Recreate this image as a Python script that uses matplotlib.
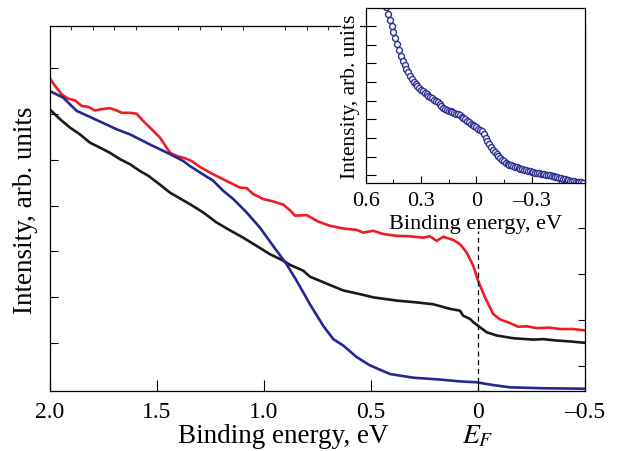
import matplotlib
matplotlib.use("Agg")
import matplotlib.pyplot as plt
import matplotlib.transforms as mtransforms
from matplotlib.ticker import MultipleLocator, FixedLocator

plt.rcParams['font.family'] = ['Liberation Serif', 'DejaVu Serif']
plt.rcParams['mathtext.fontset'] = 'stix'

# main panel: three spectra (binding energy in eV, intensity arb. units)
red_x = [2.0, 1.977, 1.945, 1.916, 1.883, 1.852, 1.821, 1.79, 1.758, 1.72, 1.688, 1.665,
         1.626, 1.595, 1.564, 1.533, 1.486, 1.439, 1.408, 1.369, 1.338, 1.299, 1.237,
         1.159, 1.112, 1.081, 1.05, 1.003, 0.957, 0.91, 0.879, 0.855, 0.8, 0.746, 0.692,
         0.629, 0.567, 0.536, 0.489, 0.443, 0.38, 0.318, 0.256, 0.224, 0.193, 0.162,
         0.115, 0.084, 0.053, 0.022, -0.001, -0.033, -0.071, -0.103, -0.15, -0.188,
         -0.228, -0.274, -0.336, -0.383, -0.445, -0.5]
red_y = [6.77, 6.61, 6.42, 6.33, 6.29, 6.17, 6.15, 6.07, 6.1, 6.12, 6.07, 6.02,
         6.02, 6.0, 5.84, 5.7, 5.48, 5.15, 5.08, 5.03, 4.97, 4.84, 4.68,
         4.5, 4.39, 4.38, 4.25, 4.14, 4.09, 4.02, 3.9, 3.78, 3.79, 3.65, 3.56,
         3.5, 3.47, 3.41, 3.45, 3.38, 3.34, 3.33, 3.3, 3.33, 3.23, 3.32,
         3.25, 3.16, 2.98, 2.69, 2.36, 2.0, 1.64, 1.52, 1.44, 1.36,
         1.37, 1.33, 1.34, 1.31, 1.31, 1.28]

black_x = [2.0, 1.953, 1.907, 1.86, 1.813, 1.766, 1.72, 1.673, 1.626, 1.579, 1.541, 1.49,
           1.439, 1.346, 1.284, 1.221, 1.159, 1.097, 1.034, 0.972, 0.91, 0.879, 0.816,
           0.785, 0.723, 0.645, 0.629, 0.551, 0.489, 0.38, 0.286, 0.209, 0.131, 0.084,
           0.069, 0.037, 0.022, -0.001, -0.041, -0.087, -0.165, -0.258, -0.305, -0.368,
           -0.43, -0.5]
black_y = [6.09, 5.88, 5.7, 5.55, 5.37, 5.26, 5.15, 5.01, 4.9, 4.75, 4.65, 4.47,
           4.28, 4.03, 3.85, 3.63, 3.46, 3.3, 3.12, 2.94, 2.8, 2.71, 2.58,
           2.45, 2.33, 2.18, 2.15, 2.07, 2.0, 1.93, 1.89, 1.85, 1.75, 1.71,
           1.6, 1.53, 1.46, 1.38, 1.24, 1.17, 1.11, 1.08, 1.09, 1.06,
           1.04, 1.01]

blue_x = [2.0, 1.938, 1.875, 1.813, 1.688, 1.626, 1.533, 1.439, 1.377, 1.346, 1.299, 1.237,
          1.19, 1.143, 1.081, 1.019, 0.957, 0.894, 0.847, 0.785, 0.723, 0.676, 0.629,
          0.567, 0.505, 0.411, 0.302, 0.178, 0.084, 0.006, -0.071, -0.15, -0.305, -0.5]
blue_y = [6.49, 6.35, 6.06, 5.93, 5.66, 5.55, 5.33, 5.12, 4.97, 4.86, 4.72, 4.54,
          4.32, 4.14, 3.85, 3.52, 3.12, 2.72, 2.36, 1.85, 1.38, 1.09, 0.95,
          0.7, 0.52, 0.33, 0.25, 0.21, 0.17, 0.15, 0.09, 0.04, 0.02, 0.01]

main_ticks = [2.0, 1.5, 1.0, 0.5, 0.0, -0.5]
main_labels = ['2.0', '1.5', '1.0', '0.5', '0', '\u20130.5']

# inset: blue spectrum near E_F
ins_x = [0.49, 0.48, 0.47, 0.46, 0.45, 0.44, 0.43, 0.42, 0.41, 0.40,
         0.39, 0.38, 0.37, 0.36, 0.35, 0.34, 0.33, 0.32, 0.31, 0.30,
         0.29, 0.28, 0.27, 0.26, 0.25, 0.24, 0.23, 0.22, 0.21, 0.20,
         0.19, 0.18, 0.17, 0.16, 0.15, 0.14, 0.13, 0.12, 0.11, 0.10,
         0.09, 0.08, 0.07, 0.06, 0.05, 0.04, 0.03, 0.02, 0.01, 0.00,
         -0.01, -0.02, -0.03, -0.04, -0.05, -0.06, -0.07, -0.08, -0.09, -0.10,
         -0.11, -0.12, -0.13, -0.14, -0.15, -0.16, -0.17, -0.18, -0.19, -0.20,
         -0.21, -0.22, -0.23, -0.24, -0.25, -0.26, -0.27, -0.28, -0.29, -0.30,
         -0.31, -0.32, -0.33, -0.34, -0.35, -0.36, -0.37, -0.38, -0.39, -0.40,
         -0.41, -0.42, -0.43, -0.44, -0.45, -0.46, -0.47, -0.48, -0.49, -0.50,
         -0.51, -0.52, -0.53, -0.54, -0.55, -0.56, -0.57, -0.58]
ins_y = [9.0, 8.65, 8.33, 8.0, 7.67, 7.34, 7.02, 6.71, 6.39, 6.15,
         5.93, 5.73, 5.53, 5.35, 5.18, 5.01, 4.88, 4.77, 4.67, 4.58,
         4.51, 4.43, 4.35, 4.27, 4.2, 4.14, 4.07, 3.99, 3.92, 3.83,
         3.72, 3.62, 3.55, 3.5, 3.46, 3.43, 3.39, 3.35, 3.31, 3.27,
         3.22, 3.16, 3.09, 3.01, 2.92, 2.84, 2.78, 2.72, 2.65, 2.58,
         2.51, 2.44, 2.36, 2.2, 2.02, 1.84, 1.67, 1.51, 1.38, 1.26,
         1.14, 1.03, 0.93, 0.84, 0.76, 0.69, 0.63, 0.58, 0.54, 0.51,
         0.48, 0.44, 0.4, 0.36, 0.33, 0.3, 0.27, 0.26, 0.22, 0.2,
         0.18, 0.15, 0.14, 0.12, 0.09, 0.08, 0.06, 0.04, 0.02, 0.0,
         -0.03, -0.05, -0.07, -0.1, -0.13, -0.15, -0.18, -0.21, -0.23, -0.25,
         -0.28, -0.31, -0.32, -0.33, -0.35, -0.36, -0.37, -0.39]

ins_ticks = [0.6, 0.3, 0.0, -0.3]
ins_labels = ['0.6', '0.3', '0', '\u20130.3']

fig = plt.figure(figsize=(6.17, 4.52), dpi=100)
ax = fig.add_axes([0.081, 0.1327, 0.867, 0.8065])

ax.plot(red_x, red_y, color='#ee1c25', lw=1.9)
ax.plot(black_x, black_y, color='#1a1a1a', lw=1.9)
ax.plot(blue_x, blue_y, color='#262690', lw=1.9)
ax.plot([0, 0], [-0.05, 3.45], color='black', lw=0.9, ls=(0, (4, 3)))

ax.set_xlim(2.0, -0.5)
ax.set_ylim(-0.04, 7.9)
ax.set_xticks(main_ticks)
ax.set_xticklabels(main_labels)
ax.xaxis.set_minor_locator(MultipleLocator(0.1))
ax.yaxis.set_major_locator(FixedLocator([1, 2, 3, 4, 5, 6, 7]))
ax.yaxis.set_minor_locator(MultipleLocator(0.5))
ax.tick_params(axis='x', which='major', direction='in', length=8, width=0.8,
               labelsize=17, pad=7, top=False)
ax.tick_params(axis='x', which='minor', direction='in', length=3, width=0.6,
               bottom=False, top=True)
ax.tick_params(axis='y', which='major', direction='in', length=6, width=0.8,
               labelleft=False, right=False)
ax.tick_params(axis='y', which='minor', direction='in', length=5, width=0.8,
               left=False, right=True)
for s in ax.spines.values():
    s.set_linewidth(0.9)

ax.set_ylabel('Intensity, arb. units', fontsize=19.5, labelpad=5)
ax.text(0.436, -0.122, 'Binding energy, eV', transform=ax.transAxes,
        ha='center', va='center', fontsize=19.5)
trans = mtransforms.blended_transform_factory(ax.transData, ax.transAxes)
ax.text(0.0, -0.122, '$E_F$', transform=trans, ha='center', va='center', fontsize=20)

# inset
axi = fig.add_axes([0.593, 0.593, 0.355, 0.387])
axi.plot(ins_x, ins_y, ls='none', marker='o', ms=4.3, mfc='white', mec='#2e3192', mew=1.0)
axi.set_xlim(0.6, -0.59)
axi.set_ylim(-0.4, 8.97)
axi.set_xticks(ins_ticks)
axi.set_xticklabels(ins_labels)
axi.xaxis.set_minor_locator(MultipleLocator(0.15))
axi.yaxis.set_major_locator(FixedLocator([0, 1, 2, 3, 4, 5, 6, 7, 8]))
axi.tick_params(axis='x', which='major', direction='in', length=5, width=0.8,
                labelsize=16, pad=6)
axi.tick_params(axis='x', which='minor', direction='in', length=3, width=0.6)
axi.tick_params(axis='y', direction='in', length=7, width=0.8, labelleft=False)
for s in axi.spines.values():
    s.set_linewidth(0.9)
axi.set_xlabel('Binding energy, eV', fontsize=16, labelpad=3)
axi.set_ylabel('Intensity, arb. units', fontsize=15.5, labelpad=4,
               bbox=dict(facecolor='white', edgecolor='none', pad=0))

fig.savefig('out.png', dpi=100)
